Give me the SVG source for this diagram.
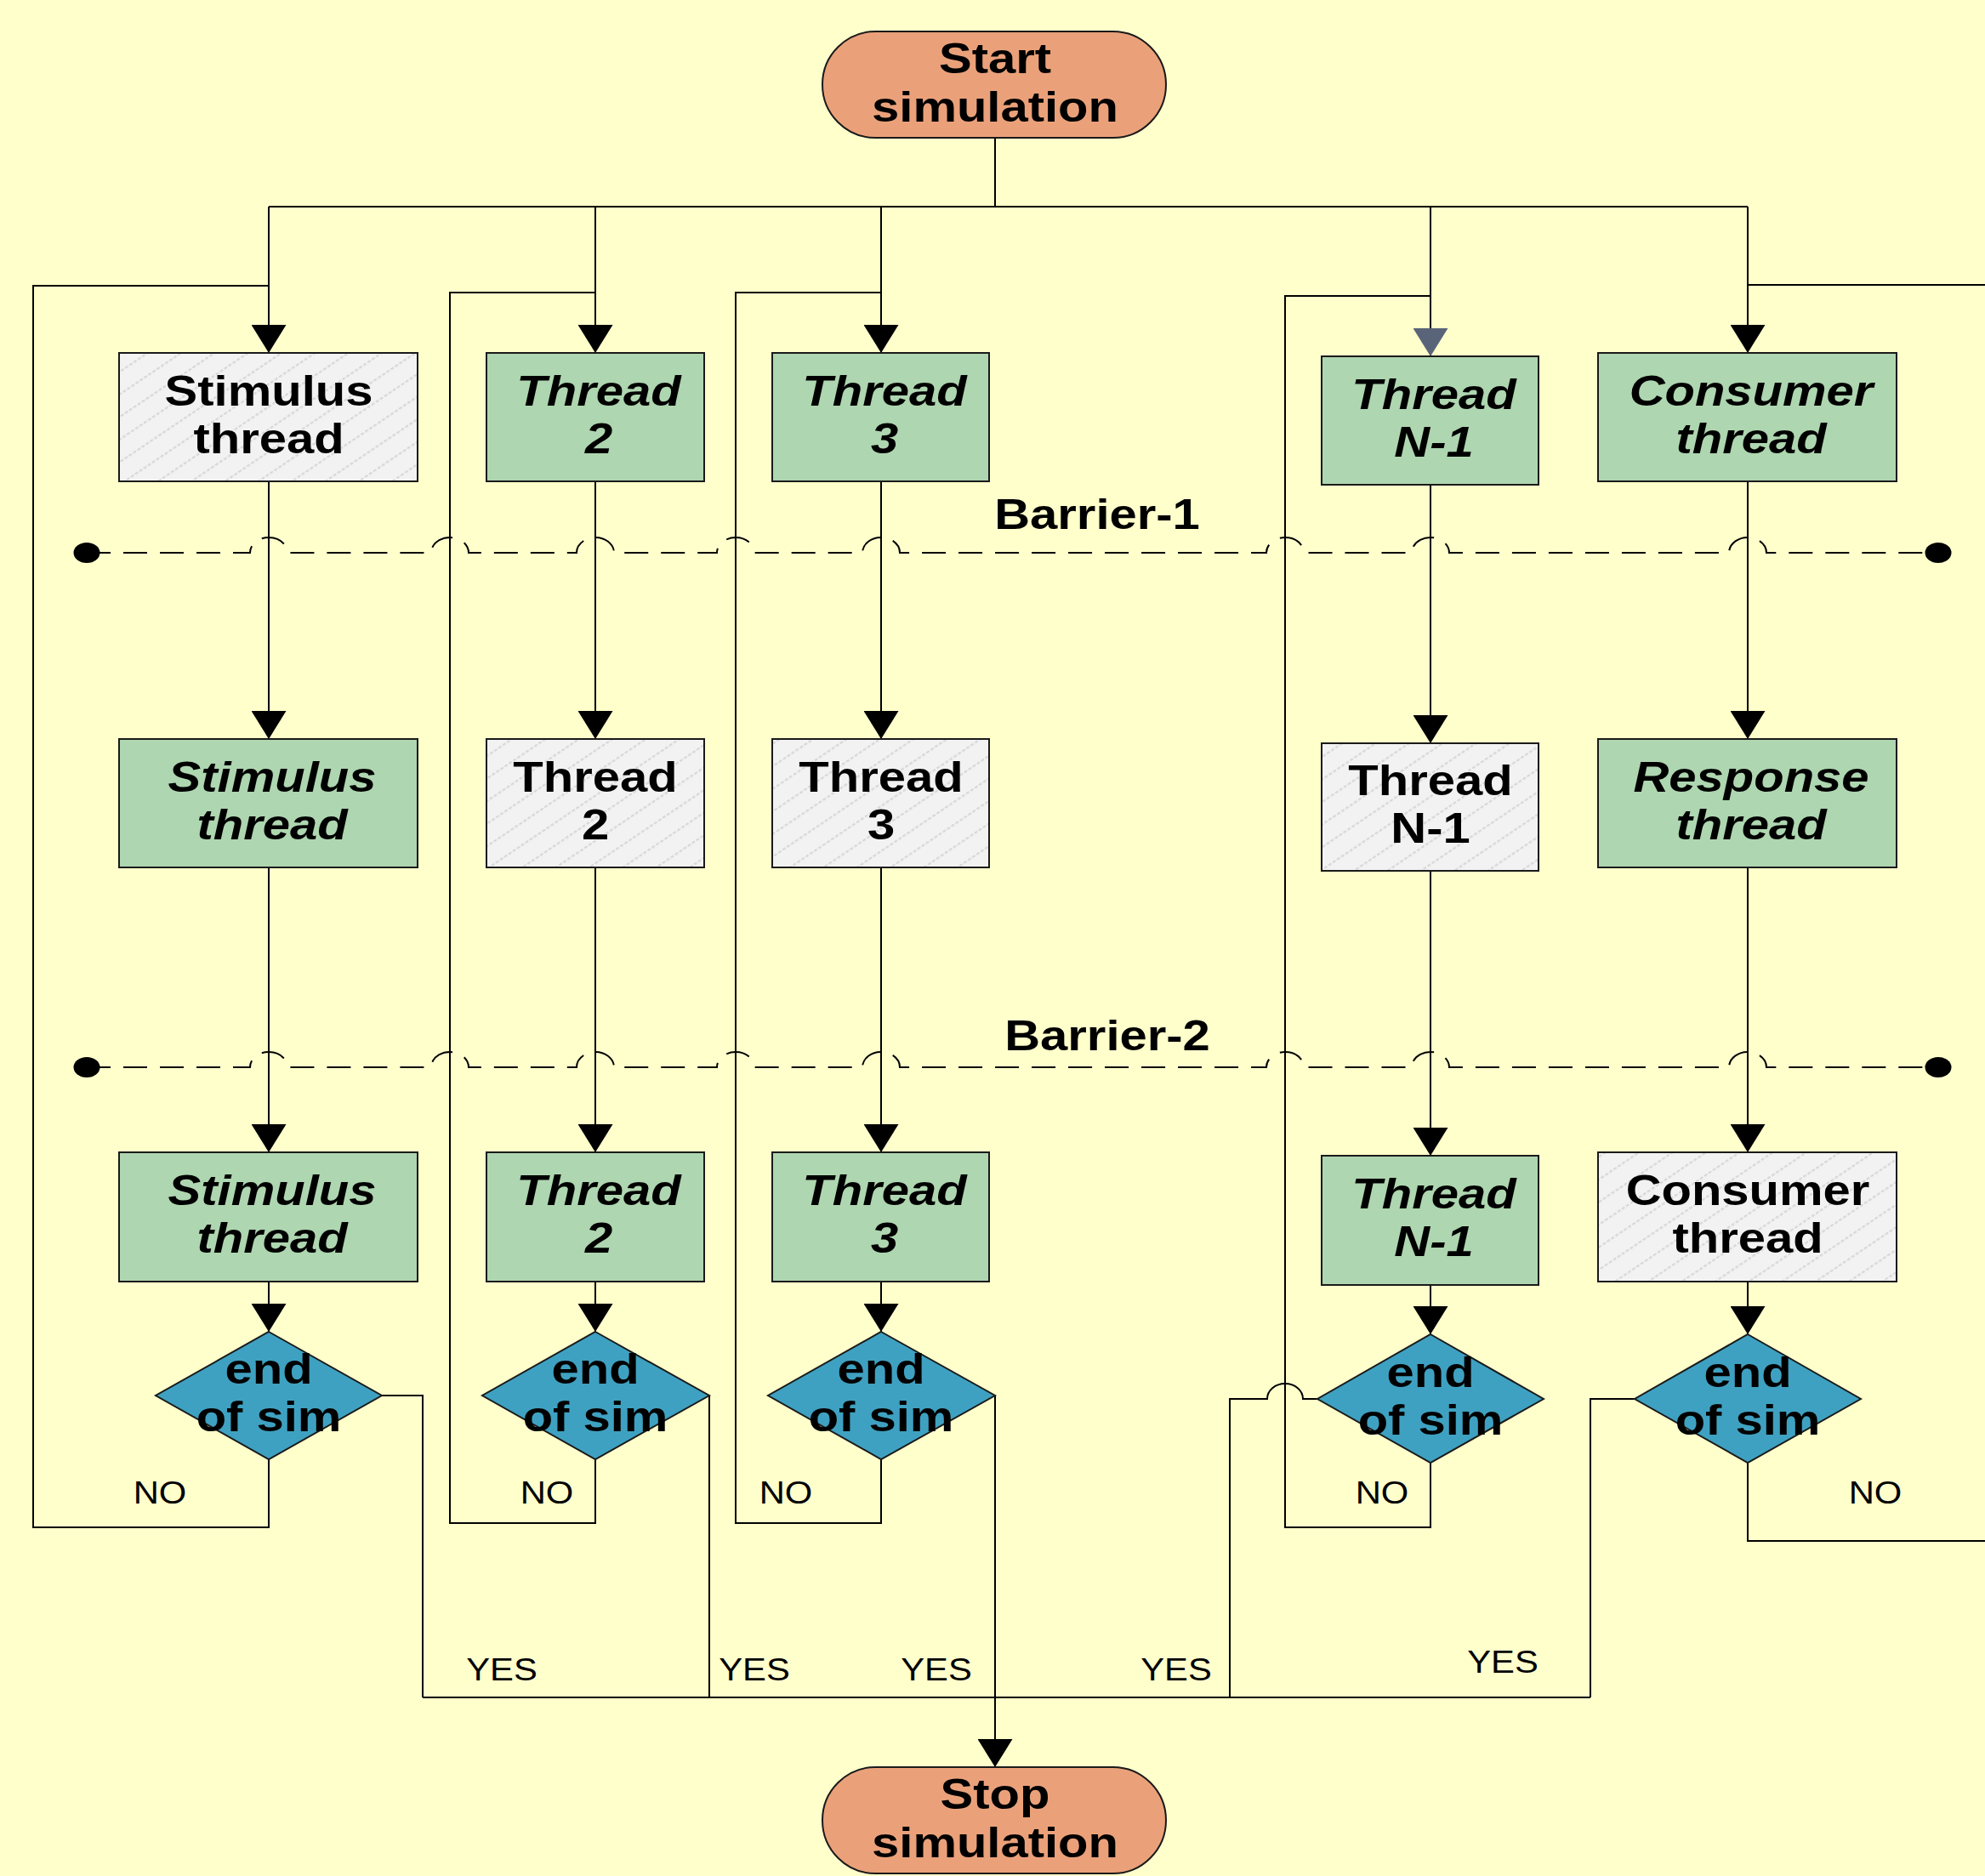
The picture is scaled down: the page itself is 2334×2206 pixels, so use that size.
<svg xmlns="http://www.w3.org/2000/svg" width="2334" height="2206" viewBox="0 0 2334 2206">
<style>
.bg{fill:#FFFFCC}
.green{fill:#AED6B0;stroke:#1a1a1a;stroke-width:2}
.hatch{fill:url(#hatch);stroke:#1a1a1a;stroke-width:2}
.dia{fill:#3FA1C1;stroke:#1a1a1a;stroke-width:2}
.oval{fill:#EAA17A;stroke:#1a1a1a;stroke-width:2}
.ln{fill:none;stroke:#000;stroke-width:2}
.arr{marker-end:url(#ah)}
.arrg{marker-end:url(#ahg)}
.bar{fill:none;stroke:#000;stroke-width:2;stroke-dasharray:28 15}
text{font-family:"Liberation Sans",Arial,sans-serif;fill:#000;text-anchor:middle}
.b{font-size:50px;font-weight:bold}
.bi{font-size:50px;font-weight:bold;font-style:italic}
.lbl{font-size:36px}
</style>
<defs>
<pattern id="hatch" patternUnits="userSpaceOnUse" width="12" height="22" patternTransform="rotate(-34)">
<rect width="12" height="22" fill="#F2F2F2"/>
<line x1="0" y1="1" x2="12" y2="1" stroke="#D8D8D8" stroke-width="2.5" stroke-dasharray="4 2"/>
</pattern>
<marker id="ah" markerUnits="userSpaceOnUse" markerWidth="33" markerHeight="41" viewBox="0 0 33 41" refX="33" refY="20.5" orient="auto">
<path d="M0,0 L33,20.5 L0,41 Z" fill="#000"/>
</marker>
<marker id="ahg" markerUnits="userSpaceOnUse" markerWidth="33" markerHeight="41" viewBox="0 0 33 41" refX="33" refY="20.5" orient="auto">
<path d="M0,0 L33,20.5 L0,41 Z" fill="#5A6479"/>
</marker>
</defs>
<rect class="bg" x="0" y="0" width="2334" height="2206"/>

<g id="connectors">
<path class="ln" d="M1170,162 V243 M316,243 H2055"/>
<path class="ln arr" d="M316,243 V415"/>
<path class="ln arr" d="M700,243 V415"/>
<path class="ln arr" d="M1036,243 V415"/>
<path class="ln arrg" d="M1682,243 V419"/>
<path class="ln arr" d="M2055,243 V415"/>
<path class="ln arr" d="M316,566 V869"/>
<path class="ln arr" d="M700,566 V869"/>
<path class="ln arr" d="M1036,566 V869"/>
<path class="ln arr" d="M1682,570 V874"/>
<path class="ln arr" d="M2055,566 V869"/>
<path class="ln arr" d="M316,1020 V1355"/>
<path class="ln arr" d="M700,1020 V1355"/>
<path class="ln arr" d="M1036,1020 V1355"/>
<path class="ln arr" d="M1682,1024 V1359"/>
<path class="ln arr" d="M2055,1020 V1355"/>
<path class="ln arr" d="M316,1507 V1566"/>
<path class="ln arr" d="M700,1507 V1566"/>
<path class="ln arr" d="M1036,1507 V1566"/>
<path class="ln arr" d="M1682,1511 V1569"/>
<path class="ln arr" d="M2055,1507 V1569"/>
<path class="ln" d="M316,1716 V1796 H39 V336 H316"/>
<path class="ln" d="M700,1716 V1791 H529 V344 H700"/>
<path class="ln" d="M1036,1716 V1791 H865 V344 H1036"/>
<path class="ln" d="M1682,1720 V1796 H1511 V348 H1682"/>
<path class="ln" d="M2055,1720 V1812 H2334 M2334,335 H2055"/>
<path class="ln" d="M449,1641 H497 V1996"/>
<path class="ln" d="M834,1641 V1996"/>
<path class="ln arr" d="M1170,1641 V2078"/>
<path class="ln" d="M1549,1645 H1532 A21,18 0 0 0 1490,1645 H1446 V1996"/>
<path class="ln" d="M1922,1645 H1870 V1996"/>
<path class="ln" d="M497,1996 H1870"/>
<text class="lbl" transform="matrix(1.16 0 0 1 188 1768)">NO</text>
<text class="lbl" transform="matrix(1.16 0 0 1 643 1768)">NO</text>
<text class="lbl" transform="matrix(1.16 0 0 1 924 1768)">NO</text>
<text class="lbl" transform="matrix(1.16 0 0 1 1625 1768)">NO</text>
<text class="lbl" transform="matrix(1.16 0 0 1 2205 1768)">NO</text>
<text class="lbl" transform="matrix(1.16 0 0 1 590 1976)">YES</text>
<text class="lbl" transform="matrix(1.16 0 0 1 887 1976)">YES</text>
<text class="lbl" transform="matrix(1.16 0 0 1 1101 1976)">YES</text>
<text class="lbl" transform="matrix(1.16 0 0 1 1383 1976)">YES</text>
<text class="lbl" transform="matrix(1.16 0 0 1 1767 1967)">YES</text>
</g>

<g id="barrier1">
<path class="bar" d="M102,650 H294 a22,18 0 0 1 44,0 H507 a22,18 0 0 1 44,0 H678 a22,18 0 0 1 44,0 H843 a22,18 0 0 1 44,0 H1014 a22,18 0 0 1 44,0 H1489 a22,18 0 0 1 44,0 H1660 a22,18 0 0 1 44,0 H2033 a22,18 0 0 1 44,0 H2279"/>
<ellipse cx="102" cy="650" rx="15.5" ry="12" fill="#000"/>
<ellipse cx="2279" cy="650" rx="15.5" ry="12" fill="#000"/>
<text class="b" transform="matrix(1.16 0 0 1 1290 622)">Barrier-1</text>
</g>
<g id="barrier2">
<path class="bar" d="M102,1255 H294 a22,18 0 0 1 44,0 H507 a22,18 0 0 1 44,0 H678 a22,18 0 0 1 44,0 H843 a22,18 0 0 1 44,0 H1014 a22,18 0 0 1 44,0 H1489 a22,18 0 0 1 44,0 H1660 a22,18 0 0 1 44,0 H2033 a22,18 0 0 1 44,0 H2279"/>
<ellipse cx="102" cy="1255" rx="15.5" ry="12" fill="#000"/>
<ellipse cx="2279" cy="1255" rx="15.5" ry="12" fill="#000"/>
<text class="b" transform="matrix(1.16 0 0 1 1302 1235)">Barrier-2</text>
</g>

<g id="start">
<rect class="oval" x="967" y="37" width="404" height="125" rx="62.5" ry="62.5"/>
<text class="b" transform="matrix(1.16 0 0 1 1170 86)">Start</text>
<text class="b" transform="matrix(1.16 0 0 1 1170 143)">simulation</text>
</g>

<g id="r1-stimulus">
<rect class="hatch" x="140" y="415" width="351" height="151"/>
<text class="b" transform="matrix(1.16 0 0 1 316 476.5)">Stimulus</text>
<text class="b" transform="matrix(1.16 0 0 1 316 532.5)">thread</text>
</g>
<g id="r1-thread2">
<rect class="green" x="572" y="415" width="256" height="151"/>
<text class="bi" transform="matrix(1.16 0 0 1 704 476.5)">Thread</text>
<text class="bi" transform="matrix(1.16 0 0 1 704 532.5)">2</text>
</g>
<g id="r1-thread3">
<rect class="green" x="908" y="415" width="255" height="151"/>
<text class="bi" transform="matrix(1.16 0 0 1 1040 476.5)">Thread</text>
<text class="bi" transform="matrix(1.16 0 0 1 1040 532.5)">3</text>
</g>
<g id="r1-threadN1">
<rect class="green" x="1554" y="419" width="255" height="151"/>
<text class="bi" transform="matrix(1.16 0 0 1 1686 480.5)">Thread</text>
<text class="bi" transform="matrix(1.16 0 0 1 1686 536.5)">N-1</text>
</g>
<g id="r1-consumer">
<rect class="green" x="1879" y="415" width="351" height="151"/>
<text class="bi" transform="matrix(1.16 0 0 1 2059 476.5)">Consumer</text>
<text class="bi" transform="matrix(1.16 0 0 1 2059 532.5)">thread</text>
</g>

<g id="r2-stimulus">
<rect class="green" x="140" y="869" width="351" height="151"/>
<text class="bi" transform="matrix(1.16 0 0 1 320 930.5)">Stimulus</text>
<text class="bi" transform="matrix(1.16 0 0 1 320 986.5)">thread</text>
</g>
<g id="r2-thread2">
<rect class="hatch" x="572" y="869" width="256" height="151"/>
<text class="b" transform="matrix(1.16 0 0 1 700 930.5)">Thread</text>
<text class="b" transform="matrix(1.16 0 0 1 700 986.5)">2</text>
</g>
<g id="r2-thread3">
<rect class="hatch" x="908" y="869" width="255" height="151"/>
<text class="b" transform="matrix(1.16 0 0 1 1036 930.5)">Thread</text>
<text class="b" transform="matrix(1.16 0 0 1 1036 986.5)">3</text>
</g>
<g id="r2-threadN1">
<rect class="hatch" x="1554" y="874" width="255" height="150"/>
<text class="b" transform="matrix(1.16 0 0 1 1682 935)">Thread</text>
<text class="b" transform="matrix(1.16 0 0 1 1682 991)">N-1</text>
</g>
<g id="r2-response">
<rect class="green" x="1879" y="869" width="351" height="151"/>
<text class="bi" transform="matrix(1.16 0 0 1 2059 930.5)">Response</text>
<text class="bi" transform="matrix(1.16 0 0 1 2059 986.5)">thread</text>
</g>

<g id="r3-stimulus">
<rect class="green" x="140" y="1355" width="351" height="152"/>
<text class="bi" transform="matrix(1.16 0 0 1 320 1417)">Stimulus</text>
<text class="bi" transform="matrix(1.16 0 0 1 320 1473)">thread</text>
</g>
<g id="r3-thread2">
<rect class="green" x="572" y="1355" width="256" height="152"/>
<text class="bi" transform="matrix(1.16 0 0 1 704 1417)">Thread</text>
<text class="bi" transform="matrix(1.16 0 0 1 704 1473)">2</text>
</g>
<g id="r3-thread3">
<rect class="green" x="908" y="1355" width="255" height="152"/>
<text class="bi" transform="matrix(1.16 0 0 1 1040 1417)">Thread</text>
<text class="bi" transform="matrix(1.16 0 0 1 1040 1473)">3</text>
</g>
<g id="r3-threadN1">
<rect class="green" x="1554" y="1359" width="255" height="152"/>
<text class="bi" transform="matrix(1.16 0 0 1 1686 1421)">Thread</text>
<text class="bi" transform="matrix(1.16 0 0 1 1686 1477)">N-1</text>
</g>
<g id="r3-consumer">
<rect class="hatch" x="1879" y="1355" width="351" height="152"/>
<text class="b" transform="matrix(1.16 0 0 1 2055 1417)">Consumer</text>
<text class="b" transform="matrix(1.16 0 0 1 2055 1473)">thread</text>
</g>

<g id="d-stimulus">
<polygon class="dia" points="316,1566 449,1641 316,1716 183,1641"/>
<text class="b" transform="matrix(1.16 0 0 1 316 1627)">end</text>
<text class="b" transform="matrix(1.16 0 0 1 316 1683)">of sim</text>
</g>
<g id="d-thread2">
<polygon class="dia" points="700,1566 834,1641 700,1716 567,1641"/>
<text class="b" transform="matrix(1.16 0 0 1 700 1627)">end</text>
<text class="b" transform="matrix(1.16 0 0 1 700 1683)">of sim</text>
</g>
<g id="d-thread3">
<polygon class="dia" points="1036,1566 1170,1641 1036,1716 903,1641"/>
<text class="b" transform="matrix(1.16 0 0 1 1036 1627)">end</text>
<text class="b" transform="matrix(1.16 0 0 1 1036 1683)">of sim</text>
</g>
<g id="d-threadN1">
<polygon class="dia" points="1682,1569 1815,1645 1682,1720 1549,1645"/>
<text class="b" transform="matrix(1.16 0 0 1 1682 1631)">end</text>
<text class="b" transform="matrix(1.16 0 0 1 1682 1687)">of sim</text>
</g>
<g id="d-consumer">
<polygon class="dia" points="2055,1569 2188,1645 2055,1720 1922,1645"/>
<text class="b" transform="matrix(1.16 0 0 1 2055 1631)">end</text>
<text class="b" transform="matrix(1.16 0 0 1 2055 1687)">of sim</text>
</g>

<g id="stop">
<rect class="oval" x="967" y="2078" width="404" height="125" rx="62.5" ry="62.5"/>
<text class="b" transform="matrix(1.16 0 0 1 1170 2127)">Stop</text>
<text class="b" transform="matrix(1.16 0 0 1 1170 2184)">simulation</text>
</g>
</svg>
